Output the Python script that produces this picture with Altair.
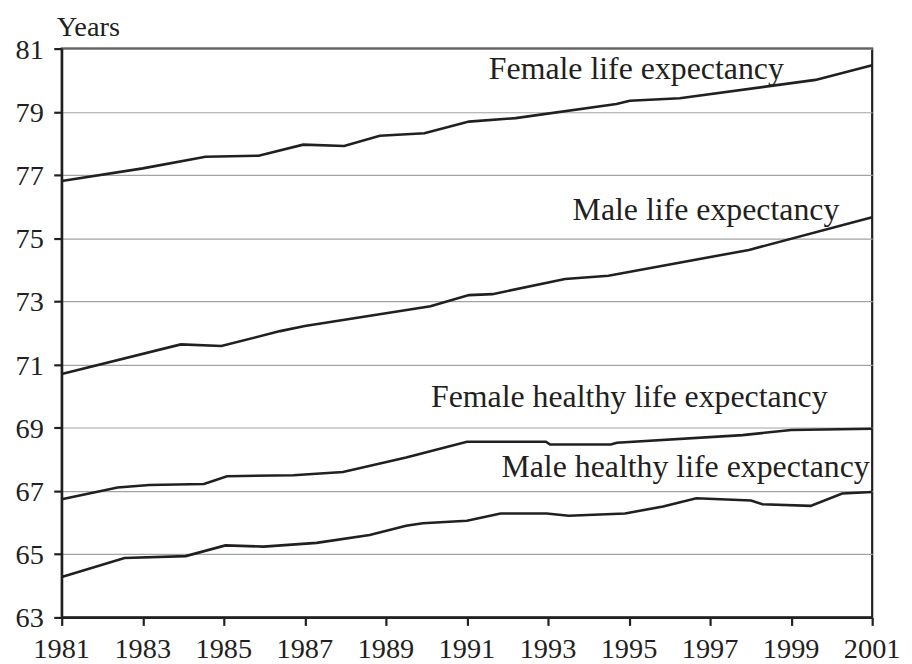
import altair as alt
import pandas as pd

# ---- data ----
female_le_years = [1981, 1983.0, 1984.55, 1985.86, 1986.96, 1987.97, 1988.85, 1989.95,
                   1991.05, 1992.2, 1994.69, 1995.02, 1996.25, 1999.6, 2001]
female_le = [76.81, 77.21, 77.58, 77.61, 77.96, 77.92, 78.24, 78.32,
             78.69, 78.80, 79.25, 79.35, 79.43, 80.01, 80.47]

male_le_years = [1981, 1983.94, 1984.94, 1986.39, 1987.0, 1990.1, 1991.05, 1991.63,
                 1993.42, 1994.49, 1997.96, 2001]
male_le = [70.70, 71.64, 71.59, 72.06, 72.22, 72.85, 73.20, 73.23,
           73.71, 73.81, 74.63, 75.66]

female_hle_years = [1981, 1982.38, 1983.16, 1984.51, 1985.08, 1986.72, 1987.94, 1989.5,
                    1991.0, 1992.95, 1993.05, 1994.55, 1994.7, 1997.8, 1999.0, 2001]
female_hle = [66.74, 67.11, 67.19, 67.22, 67.47, 67.50, 67.60, 68.06,
              68.56, 68.56, 68.47, 68.47, 68.53, 68.77, 68.93, 68.97]

male_hle_years = [1981, 1982.55, 1984.06, 1985.04, 1985.98, 1987.29, 1988.6, 1989.5,
                  1989.91, 1991.0, 1991.83, 1992.97, 1993.51, 1994.9, 1995.84, 1996.66,
                  1998.01, 1998.29, 1999.48, 2000.26, 2001]
male_hle = [64.28, 64.88, 64.94, 65.28, 65.24, 65.36, 65.61, 65.90,
            65.98, 66.06, 66.29, 66.29, 66.22, 66.29, 66.51, 66.77,
            66.70, 66.58, 66.53, 66.92, 66.97]

series_names = ["Female life expectancy", "Male life expectancy",
                "Female healthy life expectancy", "Male healthy life expectancy"]

# label anchor (right end, baseline) positions in data units
label_x = [1998.82, 2000.19, 1999.9, 2000.94]
label_y = [80.05, 75.59, 69.67, 67.43]

x_ticks = list(range(1981, 2002, 2))
y_ticks = list(range(63, 82, 2))
y_title = "Years"

# ---- build tables ----
rows = []
for name, xs, ys in zip(series_names,
                        [female_le_years, male_le_years, female_hle_years, male_hle_years],
                        [female_le, male_le, female_hle, male_hle]):
    for x, y in zip(xs, ys):
        rows.append({"series": name, "year": x, "value": y})
df = pd.DataFrame(rows)
labels = pd.DataFrame({"series": series_names, "year": label_x, "value": label_y})
xtick_df = pd.DataFrame({"year": x_ticks, "value": [63] * len(x_ticks),
                         "label": [str(v) for v in x_ticks]})
ytick_df = pd.DataFrame({"year": [1981] * len(y_ticks), "value": y_ticks,
                         "label": [str(v) for v in y_ticks]})
title_df = pd.DataFrame({"year": [1981], "value": [81], "label": [y_title]})

INK = "#231f20"
FONT = "Liberation Serif"

xscale = alt.Scale(domain=[1981, 2001], nice=False, zero=False)
yscale = alt.Scale(domain=[63, 81], nice=False, zero=False)

x_enc = alt.X("year:Q", scale=xscale,
              axis=alt.Axis(values=x_ticks, title=None, grid=False, labels=False,
                            tickSize=8))
y_enc = alt.Y("value:Q", scale=yscale,
              axis=alt.Axis(values=y_ticks, title=None, labels=False, tickSize=8,
                            grid=True, gridColor="#a3a3a3", gridWidth=1.2))

lines = alt.Chart(df).mark_line(color=INK, strokeWidth=2.6).encode(
    x=x_enc, y=y_enc, detail="series:N"
)

texts = alt.Chart(labels).mark_text(
    align="right", baseline="alphabetic", font=FONT, fontSize=32, color=INK
).encode(x="year:Q", y="value:Q", text="series:N")

xlabels = alt.Chart(xtick_df).mark_text(
    align="center", baseline="alphabetic", dy=41, font=FONT, fontSize=28.5, color=INK
).encode(x="year:Q", y="value:Q", text="label:N")

ylabels = alt.Chart(ytick_df).mark_text(
    align="right", baseline="alphabetic", dx=-18, dy=10, font=FONT, fontSize=28.5, color=INK
).encode(x="year:Q", y="value:Q", text="label:N")

ytitle = alt.Chart(title_df).mark_text(
    align="left", baseline="alphabetic", dx=-5, dy=-13, font=FONT, fontSize=28.5, color=INK
).encode(x="year:Q", y="value:Q", text="label:N")

chart = alt.layer(lines, texts, xlabels, ylabels, ytitle).properties(
    width=815, height=572,
    autosize=alt.AutoSizeParams(type="none"),
    padding={"left": 54, "top": 39, "right": 32, "bottom": 45},
).configure_view(
    stroke=INK, strokeWidth=2.2
).configure_axis(
    domainColor=INK, domainWidth=2.2, tickColor=INK, tickWidth=2.2
)

chart.save("out.html", embed_options={"renderer": "svg", "actions": False})
